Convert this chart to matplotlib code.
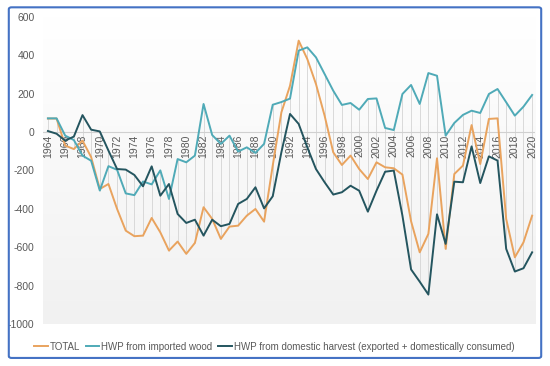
import matplotlib
matplotlib.use("Agg")
import matplotlib.pyplot as plt
from matplotlib.patches import FancyBboxPatch
import numpy as np

plt.rcParams['font.family'] = ['Liberation Sans', 'DejaVu Sans']

years = list(range(1964, 2021))

total = [70, 70, -71, -89, -45, -131, -297, -271, -401, -514,
         -543, -540, -448, -523, -618, -571, -635, -578, -392, -453,
         -557, -493, -488, -436, -401, -467, -175, 102, 241, 476,
         380, 250, 85, -106, -172, -123, -193, -245, -158, -184,
         -189, -222, -465, -627, -531, -137, -609, -219, -175, 36,
         -167, 68, 71, -453, -653, -575, -436]

imported = [71, 71, -19, -42, -123, -150, -305, -178, -197, -320,
            -329, -258, -273, -200, -349, -141, -158, -123, 146, -16,
            -62, -19, -102, -80, -109, -62, 142, 156, 174, 424,
            441, 389, 302, 215, 141, 151, 116, 172, 175, 21,
            10, 198, 245, 146, 307, 293, -19, 47, 89, 111,
            99, 198, 224, 155, 85, 132, 193]

domestic = [5, -9, -45, -24, 88, 12, 3, -97, -193, -196,
            -224, -283, -179, -332, -271, -427, -474, -457, -540, -457,
            -491, -479, -375, -349, -288, -398, -335, -106, 94, 42,
            -80, -193, -262, -326, -314, -280, -306, -415, -306, -207,
            -201, -436, -716, -780, -847, -429, -583, -259, -262, -75,
            -266, -127, -149, -609, -727, -710, -627]

labels = ["TOTAL", "HWP from imported wood",
          "HWP from domestic harvest (exported + domestically consumed)"]
colors = ["#E9A35E", "#4FAAB7", "#24555F"]

fig = plt.figure(figsize=(5.5, 3.66), dpi=100)
ax = fig.add_axes([0.078, 0.115, 0.895, 0.839])

# fond en dégradé blanc -> gris clair
grad = np.linspace(0, 1, 256).reshape(-1, 1)
ax.imshow(grad, cmap=matplotlib.colors.LinearSegmentedColormap.from_list(
    "bg", ["#F1F1F1", "#FFFFFF"]), aspect="auto",
    extent=[1963.42, 2020.35, -1000, 600], origin="lower", zorder=0)

# lignes haut-bas entre les séries
arr = np.array([total, imported, domestic])
ax.vlines(years, arr.min(axis=0), arr.max(axis=0), color="#D4D4D4",
          linewidth=0.6, zorder=1)

ax.axhline(0, color="#D0D0D0", linewidth=0.8, zorder=1)

for serie, lab, col in zip([total, imported, domestic], labels, colors):
    ax.plot(years, serie, color=col, linewidth=1.4, label=lab, zorder=3)

ax.set_xlim(1963.42, 2020.35)
ax.set_ylim(-1000, 600)
ax.set_yticks(range(-1000, 601, 200))
ax.set_yticklabels([str(v) for v in range(-1000, 601, 200)])

for s in ax.spines.values():
    s.set_visible(False)
ax.tick_params(axis="y", length=0, labelsize=7.5, colors="#595959", pad=6)

# étiquettes des années sous la ligne 0
ax.set_xticks([])
for yr in years[::2]:
    ax.text(yr, -12, str(yr), rotation=90, ha="center", va="top",
            fontsize=7.5, color="#595959", zorder=2)

leg = ax.legend(loc="upper center", bbox_to_anchor=(0.47, -0.03), ncol=3,
                frameon=False, fontsize=7, handlelength=1.4,
                handletextpad=0.2, columnspacing=0.6)
for t in leg.get_texts():
    t.set_color("#595959")

# cadre bleu autour de la figure
fig.patches.append(FancyBboxPatch((0.016, 0.022), 0.968, 0.958,
                                  boxstyle="round,pad=0,rounding_size=0.005",
                                  transform=fig.transFigure, fill=False,
                                  edgecolor="#4472C4", linewidth=1.5))

fig.savefig("out.png", dpi=100)
